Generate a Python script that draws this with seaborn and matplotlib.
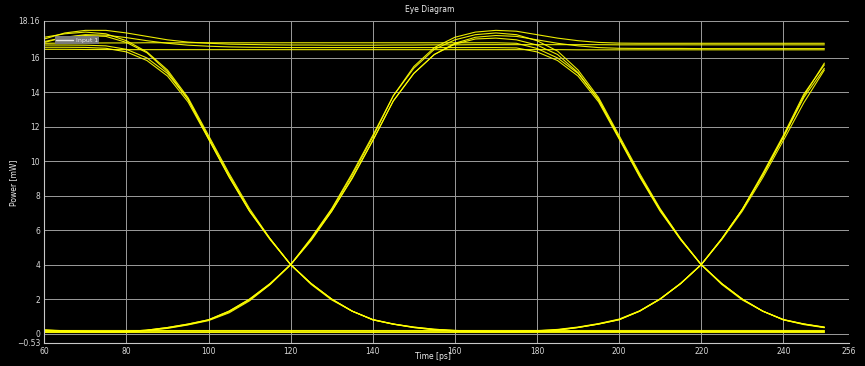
import matplotlib
matplotlib.use("Agg")
import matplotlib.pyplot as plt
from matplotlib.lines import Line2D
import pandas as pd
import seaborn as sns

# ---------------- data ----------------
time_ps = [60, 65, 70, 75, 80, 85, 90, 95, 100, 105, 110, 115, 120,
           125, 130, 135, 140, 145, 150, 155, 160, 165, 170, 175, 180, 185,
           190, 195, 200, 205, 210, 215, 220, 225, 230, 235, 240, 245, 250]

h1 = [17.10, 17.45, 17.60, 17.60, 17.45, 17.25, 17.05, 16.92, 16.85, 16.80, 16.78, 16.76, 16.75,
      16.75, 16.74, 16.74, 16.74, 16.75, 16.75, 16.76, 16.76, 16.77, 16.77, 16.77, 16.77, 16.77,
      16.77, 16.77, 16.76, 16.76, 16.76, 16.76, 16.76, 16.76, 16.76, 16.76, 16.76, 16.76, 16.76]
h2 = [16.90, 17.20, 17.35, 17.32, 17.18, 17.00, 16.85, 16.74, 16.68, 16.64, 16.62, 16.61, 16.60,
      16.60, 16.60, 16.60, 16.60, 16.60, 16.60, 16.60, 16.60, 16.60, 16.60, 16.58, 16.35, 15.85,
      14.95, 13.45, 11.30, 9.10, 7.10, 5.45, 4.00, 2.90, 2.00, 1.30, 0.80, 0.55, 0.36]
h3 = [17.20, 17.40, 17.50, 17.40, 17.00, 16.35, 15.30, 13.70, 11.50, 9.30, 7.25, 5.50, 4.00,
      2.85, 1.95, 1.30, 0.80, 0.55, 0.38, 0.25, 0.18, 0.15, 0.13, 0.12, 0.12, 0.12,
      0.12, 0.12, 0.12, 0.12, 0.12, 0.12, 0.12, 0.12, 0.12, 0.12, 0.12, 0.12, 0.12]
h4 = [16.95, 17.20, 17.30, 17.25, 16.90, 16.30, 15.20, 13.60, 11.30, 9.10, 7.10, 5.45, 4.00,
      2.90, 2.00, 1.30, 0.80, 0.55, 0.35, 0.22, 0.15, 0.12, 0.12, 0.13, 0.16, 0.22,
      0.36, 0.56, 0.82, 1.30, 2.00, 2.90, 4.00, 5.50, 7.20, 9.30, 11.50, 13.90, 15.60]
h5 = [16.50, 16.50, 16.49, 16.49, 16.48, 16.48, 16.48, 16.48, 16.48, 16.48, 16.48, 16.48, 16.48,
      16.48, 16.48, 16.48, 16.48, 16.48, 16.48, 16.48, 16.48, 16.48, 16.48, 16.48, 16.48, 16.48,
      16.47, 16.47, 16.47, 16.47, 16.47, 16.47, 16.47, 16.47, 16.47, 16.47, 16.47, 16.47, 16.47]
h6 = [16.85, 16.86, 16.86, 16.87, 16.87, 16.88, 16.88, 16.88, 16.88, 16.88, 16.88, 16.88, 16.88,
      16.88, 16.88, 16.88, 16.88, 16.88, 16.88, 16.88, 16.88, 16.88, 16.88, 16.85, 16.55, 16.00,
      15.10, 13.60, 11.40, 9.20, 7.20, 5.50, 4.00, 2.85, 1.95, 1.30, 0.80, 0.52, 0.34]
h7 = [16.62, 16.62, 16.61, 16.56, 16.35, 15.85, 14.95, 13.45, 11.30, 9.10, 7.10, 5.50, 4.00,
      2.90, 2.00, 1.30, 0.82, 0.56, 0.37, 0.25, 0.18, 0.15, 0.13, 0.13, 0.13, 0.13,
      0.13, 0.13, 0.13, 0.13, 0.13, 0.13, 0.13, 0.13, 0.13, 0.13, 0.13, 0.13, 0.13]
h8 = [16.75, 16.75, 16.74, 16.70, 16.50, 16.00, 15.10, 13.60, 11.40, 9.20, 7.15, 5.50, 4.00,
      2.90, 2.00, 1.30, 0.80, 0.54, 0.35, 0.22, 0.15, 0.11, 0.10, 0.10, 0.12, 0.20,
      0.35, 0.55, 0.80, 1.30, 2.00, 2.90, 4.00, 5.50, 7.20, 9.20, 11.40, 13.70, 15.40]
h9 = [0.10, 0.10, 0.10, 0.10, 0.12, 0.20, 0.35, 0.55, 0.80, 1.30, 2.00, 2.90, 4.00,
      5.50, 7.20, 9.20, 11.40, 13.80, 15.50, 16.60, 17.20, 17.50, 17.60, 17.55, 17.35, 17.15,
      17.00, 16.90, 16.86, 16.85, 16.85, 16.85, 16.85, 16.85, 16.85, 16.85, 16.85, 16.85, 16.85]
h10 = [0.20, 0.15, 0.12, 0.10, 0.11, 0.18, 0.30, 0.50, 0.75, 1.20, 1.90, 2.85, 4.00,
       5.40, 7.10, 9.00, 11.20, 13.50, 15.10, 16.20, 16.85, 17.20, 17.30, 17.25, 17.05, 16.85,
       16.70, 16.60, 16.56, 16.55, 16.55, 16.55, 16.54, 16.54, 16.54, 16.54, 16.54, 16.54, 16.54]
h11 = [0.10, 0.10, 0.10, 0.10, 0.12, 0.20, 0.35, 0.55, 0.80, 1.30, 2.00, 2.90, 4.00,
       5.55, 7.25, 9.30, 11.50, 13.80, 15.40, 16.50, 17.05, 17.35, 17.45, 17.35, 17.00, 16.40,
       15.30, 13.70, 11.50, 9.30, 7.25, 5.50, 4.00, 2.90, 2.00, 1.30, 0.80, 0.55, 0.36]
h12 = [0.18, 0.14, 0.11, 0.10, 0.11, 0.18, 0.32, 0.52, 0.78, 1.25, 1.95, 2.85, 4.00,
       5.45, 7.10, 9.05, 11.20, 13.50, 15.10, 16.20, 16.80, 17.10, 17.15, 17.05, 16.75, 16.20,
       15.15, 13.55, 11.35, 9.15, 7.15, 5.45, 4.00, 2.90, 2.00, 1.30, 0.82, 0.56, 0.38]
h13 = [0.22, 0.16, 0.13, 0.11, 0.10, 0.10, 0.10, 0.10, 0.10, 0.10, 0.10, 0.10, 0.10,
       0.10, 0.10, 0.10, 0.10, 0.10, 0.10, 0.10, 0.10, 0.10, 0.10, 0.10, 0.12, 0.20,
       0.35, 0.55, 0.80, 1.30, 2.00, 2.90, 4.00, 5.50, 7.20, 9.20, 11.40, 13.80, 15.70]
h14 = [0.08, 0.08, 0.08, 0.08, 0.08, 0.08, 0.08, 0.08, 0.08, 0.08, 0.08, 0.08, 0.08,
       0.08, 0.08, 0.08, 0.08, 0.08, 0.08, 0.08, 0.08, 0.08, 0.08, 0.08, 0.08, 0.08,
       0.08, 0.08, 0.08, 0.08, 0.08, 0.08, 0.08, 0.08, 0.08, 0.08, 0.08, 0.08, 0.08]
h15 = [0.18, 0.18, 0.18, 0.18, 0.18, 0.18, 0.18, 0.18, 0.18, 0.18, 0.18, 0.18, 0.18,
       0.18, 0.18, 0.18, 0.18, 0.18, 0.18, 0.18, 0.18, 0.18, 0.18, 0.18, 0.18, 0.18,
       0.18, 0.18, 0.18, 0.18, 0.18, 0.18, 0.18, 0.18, 0.18, 0.18, 0.18, 0.18, 0.18]
h16 = [0.14, 0.14, 0.14, 0.14, 0.14, 0.14, 0.14, 0.14, 0.14, 0.14, 0.14, 0.14, 0.14,
       0.14, 0.14, 0.14, 0.14, 0.14, 0.14, 0.14, 0.14, 0.14, 0.14, 0.15, 0.17, 0.24,
       0.38, 0.58, 0.84, 1.32, 2.02, 2.92, 4.00, 5.45, 7.10, 9.05, 11.20, 13.40, 15.30]

traces = [h1, h2, h3, h4, h5, h6, h7, h8, h9, h10, h11, h12, h13, h14, h15, h16]

x_ticks = [60, 80, 100, 120, 140, 160, 180, 200, 220, 240, 256]
y_ticks = [-0.53, 0, 2, 4, 6, 8, 10, 12, 14, 16, 18.16]
y_tick_labels = ["\u22120.53", "0", "2", "4", "6", "8", "10", "12", "14", "16", "18.16"]

# ---------------- long-form table ----------------
rows = []
for k, tr in enumerate(traces):
    assert len(tr) == len(time_ps), (k, len(tr))
    for t, v in zip(time_ps, tr):
        rows.append({"trace": k, "time": t, "power": v})
df = pd.DataFrame(rows)

# ---------------- figure ----------------
sns.set_theme(style="dark")
plt.rcParams["font.family"] = ["DejaVu Sans"]

fig = plt.figure(figsize=(8.65, 3.66), dpi=100, facecolor="black")
ax = fig.add_axes([0.0512, 0.0637, 0.9303, 0.8797])
ax.set_facecolor("black")

sns.lineplot(data=df, x="time", y="power", units="trace", estimator=None,
             color="#ffff00", linewidth=0.8, alpha=0.92, sort=False,
             legend=False, ax=ax)

ax.set_xlim(60, 256)
ax.set_ylim(-0.53, 18.16)
ax.set_xticks(x_ticks)
ax.set_xticklabels([str(v) for v in x_ticks])
ax.set_yticks(y_ticks)
ax.set_yticklabels(y_tick_labels)
ax.grid(True, color="#9c9c9c", linewidth=0.7)
ax.set_axisbelow(True)
for s in ["top", "right"]:
    ax.spines[s].set_visible(False)
for s in ["left", "bottom"]:
    ax.spines[s].set_color("#c8c8c8")
    ax.spines[s].set_linewidth(0.8)
ax.tick_params(colors="#d8d8d8", labelsize=5.5, length=0, pad=3)
ax.set_xlabel("")
ax.set_ylabel("")

leg = ax.legend(handles=[Line2D([], [], color="#e8e8e8", linewidth=1.0)],
                labels=["Input 1"], loc="upper left",
                bbox_to_anchor=(0.009, 0.962), fontsize=4.5,
                facecolor="#7a7a7a", edgecolor="none", framealpha=1.0,
                handlelength=2.8, borderpad=0.2, handletextpad=0.4,
                fancybox=False, labelcolor="#eeeeee")

fig.text(0.497, 0.985, "Eye Diagram", ha="center", va="top",
         color="#f0f0f0", fontsize=5.5)
fig.text(0.5, 0.027, "Time [ps]", ha="center", va="center",
         color="#f0f0f0", fontsize=5.5)
fig.text(0.016, 0.5, "Power [mW]", ha="center", va="center", rotation=90,
         color="#f0f0f0", fontsize=5.5)

fig.savefig("out.png", dpi=100, facecolor="black")
